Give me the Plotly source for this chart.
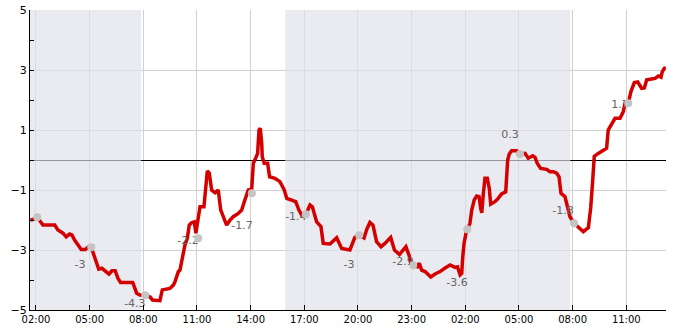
import pandas as pd
import plotly.graph_objects as go

BASE = pd.Timestamp("2024-01-01")

# main series: hours since day-1 midnight, value
hours = [1.70, 1.89, 2.07, 2.26, 2.39, 3.05, 3.23, 3.51, 3.69, 3.88, 4.01, 4.16, 4.35, 4.53, 4.76,
         4.91, 5.09, 5.24, 5.37, 5.51, 5.69, 5.87, 6.08, 6.25, 6.43, 6.58, 6.73, 7.41, 7.63, 7.81,
         8.11, 8.37, 8.52, 8.93, 9.06, 9.49, 9.68, 9.77, 9.96, 10.05, 10.23, 10.33, 10.46, 10.57,
         10.70, 10.85, 10.94, 11.07, 11.17, 11.39, 11.50, 11.58, 11.69, 11.82, 12.01, 12.19, 12.33,
         12.51, 12.66, 12.85, 13.03, 13.31, 13.50, 13.68, 13.87, 14.06, 14.15, 14.28, 14.39, 14.47,
         14.54, 14.62, 14.65, 14.76, 14.95, 15.06, 15.36, 15.64, 15.88, 16.02, 16.29, 16.52, 16.70,
         16.85, 17.09, 17.32, 17.45, 17.69, 17.93, 18.06, 18.44, 18.81, 19.09, 19.55, 19.83, 20.07,
         20.34, 20.50, 20.67, 20.84, 21.04, 21.29, 21.51, 21.83, 22.04, 22.32, 22.52, 22.68, 22.87,
         22.95, 23.10, 23.32, 23.43, 23.56, 23.75, 24.07, 24.31, 24.59, 24.87, 25.15, 25.43, 25.56,
         25.71, 25.80, 25.86, 25.93, 26.04, 26.11, 26.26, 26.36, 26.50, 26.64, 26.77, 26.86, 26.92,
         27.01, 27.10, 27.23, 27.34, 27.42, 27.66, 27.84, 28.03, 28.26, 28.31, 28.37, 28.46, 28.59,
         28.87, 29.06, 29.34, 29.52, 29.77, 29.90, 30.02, 30.21, 30.55, 30.73, 30.92, 31.11, 31.24,
         31.35, 31.57, 31.72, 31.85, 32.09, 32.31, 32.60, 32.88, 33.01, 33.12, 33.21, 33.43, 33.71,
         33.90, 33.99, 34.14, 34.37, 34.65, 34.83, 34.93, 35.11, 35.26, 35.45, 35.64, 35.86, 36.01,
         36.14, 36.33, 36.61, 36.79, 36.94, 37.01, 37.13, 37.21]
values = [-2.00, -1.97, -1.91, -2.06, -2.17, -2.17, -2.33, -2.44, -2.56, -2.47, -2.50, -2.67, -2.83, -2.98, -2.98,
          -2.91, -2.91, -3.17, -3.44, -3.64, -3.61, -3.69, -3.80, -3.69, -3.69, -3.94, -4.08, -4.08, -4.44, -4.50,
          -4.51, -4.56, -4.67, -4.69, -4.33, -4.28, -4.17, -4.06, -3.72, -3.67, -3.11, -2.83, -2.61, -2.17,
          -2.09, -2.06, -2.44, -1.89, -1.56, -1.56, -0.67, -0.36, -0.44, -1.00, -1.09, -1.00, -1.67,
          -1.94, -2.17, -2.00, -1.89, -1.78, -1.67, -1.33, -1.00, -0.97, -0.11, 0.06, 0.22, 1.00,
          1.06, 0.56, 0.11, -0.11, -0.11, -0.56, -0.61, -0.72, -1.00, -1.28, -1.33, -1.39, -1.67,
          -1.83, -1.81, -1.50, -1.56, -2.06, -2.22, -2.78, -2.80, -2.59, -2.95, -3.00, -2.58, -2.51,
          -2.60, -2.30, -2.08, -2.17, -2.72, -2.89, -2.78, -2.58, -3.00, -3.15, -3.00, -2.89, -3.20,
          -3.44, -3.51, -3.56, -3.44, -3.67, -3.72, -3.90, -3.80, -3.72, -3.60, -3.50, -3.58, -3.56,
          -3.83, -3.78, -3.22, -2.78, -2.44, -2.31, -2.11, -1.67, -1.33, -1.20, -1.22, -1.61, -1.76,
          -1.11, -0.61, -0.61, -0.94, -1.47, -1.39, -1.28, -1.13, -1.06, -0.56, 0.00, 0.20, 0.31,
          0.31, 0.20, 0.22, 0.06, 0.14, 0.09, -0.11, -0.28, -0.31, -0.39, -0.39, -0.44, -0.56,
          -1.11, -1.22, -1.56, -1.89, -2.11, -2.22, -2.39, -2.25, -1.60, -0.70, 0.12, 0.22, 0.31,
          0.39, 1.00, 1.17, 1.39, 1.39, 1.61, 1.89, 1.89, 2.28, 2.58, 2.60, 2.39, 2.40,
          2.67, 2.69, 2.72, 2.80, 2.76, 2.94, 3.06, 3.08]

# grey marker series every 3 hours
marker_hours = [2.07, 5.09, 8.11, 11.07, 14.07, 17.09, 20.07, 23.09, 26.11, 29.06, 32.08, 35.11]
marker_values = [-1.91, -2.91, -4.51, -2.61, -1.11, -1.81, -2.51, -3.51, -2.31, 0.20, -2.11, 1.89]

# data labels
label_hours = [4.46, 7.53, 10.50, 13.52, 16.53, 19.50, 22.52, 25.54, 28.50, 31.46, 34.65]
label_values = [-3.5, -4.8, -2.7, -2.2, -1.9, -3.5, -3.4, -4.1, 0.83, -1.7, 1.83]
label_texts = ["-3", "-4.3", "-2.2", "-1.7", "-1.4", "-3", "-2.9", "-3.6", "0.3", "-1.8", "1.7"]

# night shading periods (hours since day-1 midnight)
night_start = [1.667, 15.93]
night_end = [7.88, 31.87]

x_start_h, x_end_h = 1.667, 37.22
zero_value = 0.0


def ts(h):
    return BASE + pd.to_timedelta(h, unit="h")


fig = go.Figure()

fig.add_trace(go.Scatter(x=[ts(h) for h in hours], y=values, mode="lines",
                         line=dict(color="#d40000", width=3.5), hoverinfo="skip"))
fig.add_trace(go.Scatter(x=[ts(h) for h in label_hours], y=label_values, mode="text",
                         text=label_texts, textfont=dict(family="DejaVu Sans", size=11, color="#666666"),
                         textposition="middle center", hoverinfo="skip"))
fig.add_trace(go.Scatter(x=[ts(h) for h in marker_hours], y=marker_values, mode="markers",
                         marker=dict(color="#c4c4c4", size=8), hoverinfo="skip"))

# zero line (nudged half a pixel so it renders crisp)
half_px = 10.0 / 300.0 / 2.0
shapes = [dict(type="line", xref="x", yref="y", x0=ts(x_start_h), x1=ts(x_end_h),
               y0=zero_value - half_px, y1=zero_value - half_px,
               line=dict(color="black", width=1), layer="between")]
for s, e in zip(night_start, night_end):
    shapes.append(dict(type="rect", xref="x", yref="y", x0=ts(s), x1=ts(e), y0=-5, y1=5,
                       fillcolor="rgba(223,225,232,0.67)", line=dict(width=0), layer="between"))

fig.update_layout(
    width=685, height=330,
    margin=dict(l=30, r=19, t=10, b=20),
    paper_bgcolor="white", plot_bgcolor="white",
    showlegend=False,
    shapes=shapes,
    font=dict(family="DejaVu Sans", size=10, color="black"),
)
fig.update_xaxes(
    type="date", range=[ts(x_start_h), ts(x_end_h)],
    tick0=ts(2.0), dtick=3 * 3600 * 1000, tickformat="%H:%M",
    ticks="inside", ticklen=5, tickcolor="black",
    showgrid=True, gridcolor="#d0d0d0", gridwidth=1,
    showline=True, linecolor="black", linewidth=1,
    zeroline=False, automargin=False,
    tickfont=dict(family="DejaVu Sans", size=10, color="black"),
)
fig.update_yaxes(
    range=[-5, 5], tick0=1, dtick=2,
    ticks="inside", ticklen=4, tickcolor="black",
    minor=dict(dtick=1, tick0=0, ticks="inside", ticklen=4, tickcolor="black", showgrid=False),
    showgrid=True, gridcolor="#d0d0d0", gridwidth=1,
    showline=True, linecolor="black", linewidth=1,
    zeroline=False, automargin=False,
    tickfont=dict(family="DejaVu Sans", size=11, color="black"),
)

fig.write_html("out.html")
